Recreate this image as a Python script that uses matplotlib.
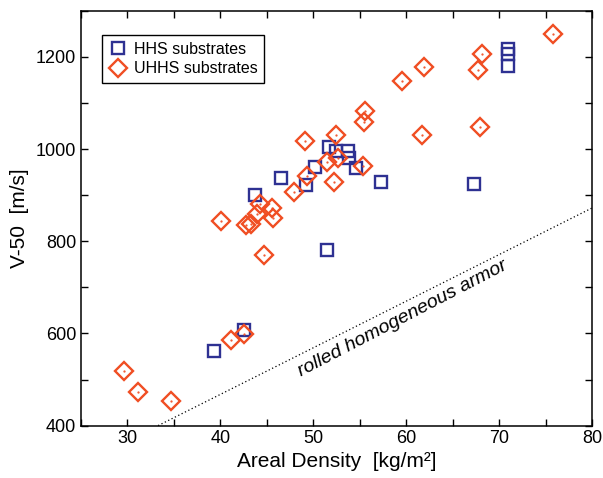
import numpy as np
import matplotlib
matplotlib.use("Agg")
import matplotlib.pyplot as plt
from matplotlib.ticker import MultipleLocator

plt.rcParams['font.family'] = ['Liberation Sans', 'DejaVu Sans']

# HHS substrates: areal density (kg/m^2) vs V-50 (m/s)
hhs_density = [39.3, 42.6, 43.7, 46.5, 49.2, 50.2, 51.5, 51.7, 52.4, 53.7,
               53.9, 54.6, 57.3, 67.3, 71.0, 71.0, 71.0]
hhs_v50 = [562, 607, 901, 937, 921, 960, 780, 1004, 996, 995,
           980, 959, 928, 925, 1218, 1207, 1180]

# UHHS substrates
uhhs_density = [29.6, 31.1, 34.7, 40.1, 41.1, 42.6, 42.8, 43.3, 43.9, 44.3,
                44.7, 45.6, 45.7, 47.9, 49.1, 49.3, 51.5, 52.2, 52.4, 52.7,
                55.4, 55.5, 55.6, 59.6, 61.7, 61.9, 67.7, 68.0, 68.2, 75.8]
uhhs_v50 = [518, 472, 454, 843, 586, 599, 836, 838, 858, 881,
            770, 873, 850, 907, 1018, 941, 972, 928, 1031, 981,
            964, 1058, 1082, 1148, 1030, 1177, 1171, 1048, 1206, 1249]

# reference line for rolled homogeneous armor
rha_density = [33.3, 80.0]
rha_v50 = [400, 872]

blue = '#2e3192'
orange = '#f04e23'

fig = plt.figure(figsize=(6.03, 4.78), dpi=100)
ax = fig.add_axes([0.1343, 0.1096, 0.8474, 0.868])

ax.plot(rha_density, rha_v50, color='black', linestyle=(0, (1, 2)), linewidth=0.9)

ax.plot(hhs_density, hhs_v50, linestyle='none', marker='s', markersize=8.6,
        markerfacecolor='none', markeredgecolor=blue, markeredgewidth=1.7,
        label='HHS substrates')
ax.plot(uhhs_density, uhhs_v50, linestyle='none', marker='D', markersize=8.8,
        markerfacecolor='none', markeredgecolor=orange, markeredgewidth=1.7,
        label='UHHS substrates')
# small centre dots inside the diamonds
ax.plot(uhhs_density, uhhs_v50, linestyle='none', marker='.', markersize=1.2,
        color=orange)

ax.text(59.6, 633, 'rolled homogeneous armor', rotation=27.5,
        rotation_mode='anchor', ha='center', va='center',
        fontsize=14, style='italic')

ax.set_xlim(25, 80)
ax.set_ylim(400, 1300)
ax.xaxis.set_major_locator(MultipleLocator(10))
ax.xaxis.set_minor_locator(MultipleLocator(5))
ax.yaxis.set_major_locator(MultipleLocator(200))
ax.yaxis.set_minor_locator(MultipleLocator(100))
ax.tick_params(which='both', direction='in', top=True, right=True,
               length=5, width=1.0, labelsize=13)
for sp in ax.spines.values():
    sp.set_linewidth(1.1)

ax.set_xlabel('Areal Density  [kg/m²]', fontsize=15, labelpad=3)
ax.set_ylabel('V-50  [m/s]', fontsize=15, labelpad=5)

leg = ax.legend(loc='upper left', bbox_to_anchor=(0.041, 0.941),
                borderaxespad=0, fontsize=11.5, fancybox=False,
                framealpha=1, edgecolor='black', handletextpad=0.4,
                handlelength=1.2, borderpad=0.4, labelspacing=0.3)
leg.get_frame().set_linewidth(1.0)

fig.savefig('out.png', dpi=100)
